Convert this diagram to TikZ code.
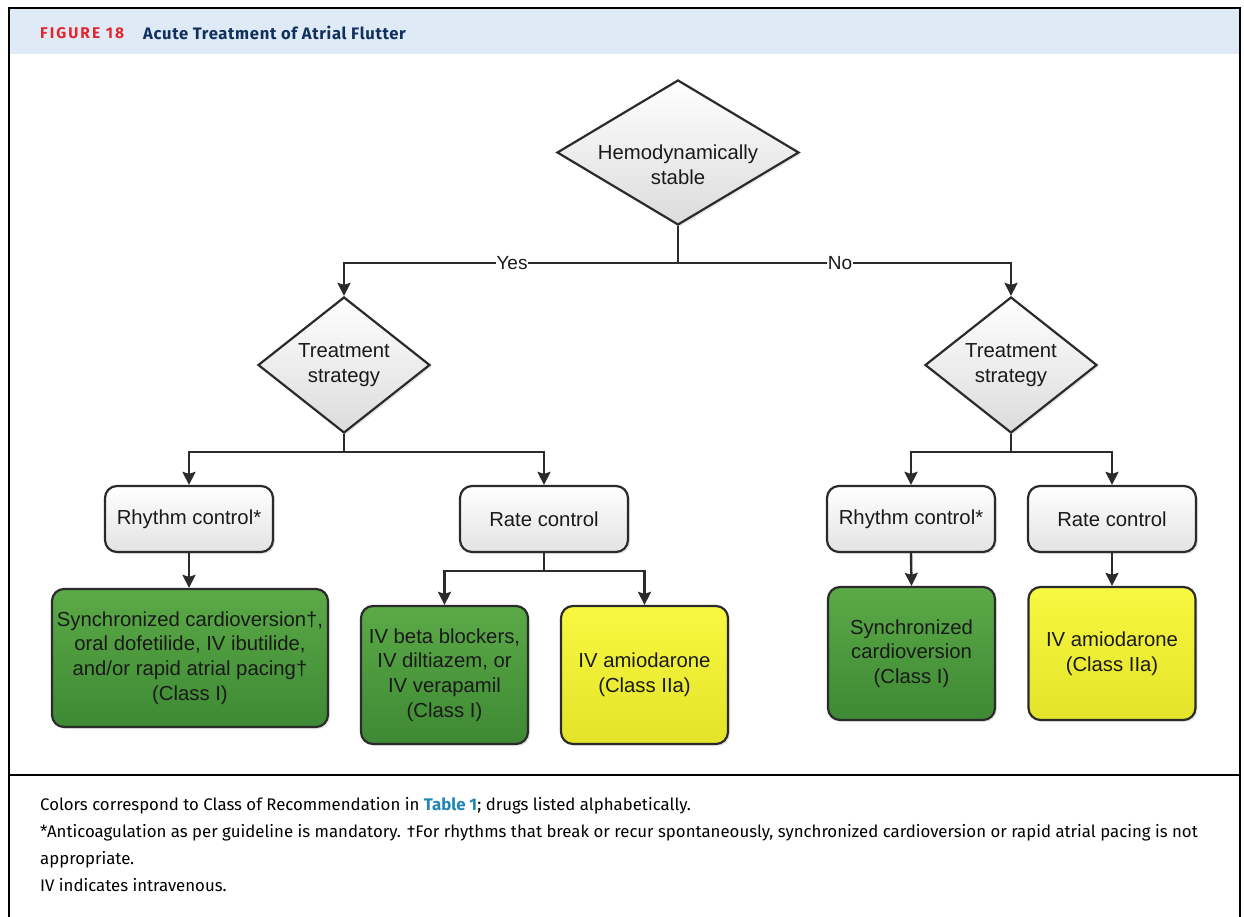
\documentclass[tikz,border=0pt]{standalone}
\usepackage{fontspec}
\setmainfont{Liberation Sans}
\newfontfamily\capfont{Fira Sans}
\usetikzlibrary{shapes.geometric,arrows.meta,shadows}
\definecolor{hdrblue}{HTML}{DEEAF6}
\definecolor{navy}{HTML}{12305E}
\definecolor{figred}{HTML}{E3262D}
\definecolor{linkblue}{HTML}{1F86B5}
\definecolor{edge}{HTML}{2B2B2B}
\definecolor{txt}{HTML}{1A1A1A}
\definecolor{gtop}{HTML}{5BAA47}
\definecolor{gbot}{HTML}{3E8934}
\definecolor{ytop}{HTML}{F8F842}
\definecolor{ybot}{HTML}{E3E329}
\begin{document}
\begin{tikzpicture}[x=1pt,y=-1pt,
  boxfont/.style={font=\fontsize{20.3}{24.7}\selectfont, text=txt, align=center},
  shade/.style={drop shadow={opacity=0.18, shadow xshift=2pt, shadow yshift=-2pt}},
  decision/.style={diamond, draw=edge, line width=2.2pt, top color=white, bottom color=black!14, inner sep=0pt, boxfont, shade},
  choice/.style={rectangle, rounded corners=12pt, draw=edge, line width=2.2pt, top color=white, bottom color=black!11, minimum width=168pt, minimum height=66pt, inner sep=0pt, boxfont, shade},
  greenbox/.style={rectangle, rounded corners=12pt, draw=edge, line width=2.2pt, top color=gtop, bottom color=gbot, inner sep=0pt, boxfont, shade},
  yellowbox/.style={rectangle, rounded corners=12pt, draw=edge, line width=2.2pt, top color=ytop, bottom color=ybot, inner sep=0pt, boxfont, shade},
  conn/.style={draw=edge, line width=2.4pt},
  arr/.style={conn, -{Stealth[length=13pt,width=13pt,inset=2pt]}},
  lbl/.style={fill=white, inner sep=0.5pt, font=\fontsize{19}{21}\selectfont, text=txt},
  captext/.style={anchor=base west, inner sep=0pt, font=\capfont\fontsize{16.8}{19}\selectfont, text=black}
]
\useasboundingbox (0,0) rectangle (1244,917);
% frame and header
\fill[white] (0,0) rectangle (1244,917);
\fill[hdrblue] (9,9) rectangle (1240,54);
\draw[black, line width=2pt] (9,917) -- (9,8) -- (1240,8) -- (1240,917);
\draw[black, line width=1.5pt] (9,775) -- (1240,775);
\node[anchor=base west, inner sep=0pt, font=\capfont\bfseries\fontsize{15.5}{17}\selectfont, text=figred] (fig) at (40,39)
  {\addfontfeature{LetterSpace=13}FIGURE 18};
\node[anchor=base west, inner sep=0pt, font=\capfont\bfseries\fontsize{16.6}{19}\selectfont, text=navy] (title) at (143,39.5)
  {\addfontfeature{LetterSpace=4}Acute Treatment of Atrial Flutter};

% nodes
\node[decision, minimum width=242pt, minimum height=145pt, aspect=1.67,
  label={[boxfont, yshift=-12pt]center:{Hemodynamically\\stable}}] (hs) at (678,152.5) {};
\node[decision, minimum width=172pt, minimum height=136pt, aspect=1.26] (tl) at (344,365) {Treatment\\strategy};
\node[decision, minimum width=172pt, minimum height=136pt, aspect=1.26] (tr) at (1011,365) {Treatment\\strategy};

\node[choice] (rc1) at (189,519) {Rhythm control*};
\node[choice] (rt1) at (544,519) {Rate control};
\node[choice] (rc2) at (911,519) {Rhythm control*};
\node[choice] (rt2) at (1112,519) {Rate control};

\node[greenbox, minimum width=276pt, minimum height=138pt] (g1) at (190,658)
  {Synchronized cardioversion\textdagger,\\oral dofetilide, IV ibutilide,\\and/or rapid atrial pacing\textdagger\\(Class I)};
\node[greenbox, minimum width=167pt, minimum height=138pt] (g2) at (444.5,675)
  {IV beta blockers,\\IV diltiazem, or\\IV verapamil\\(Class I)};
\node[yellowbox, minimum width=167pt, minimum height=138pt] (y1) at (644.5,675)
  {IV amiodarone\\(Class IIa)};
\node[greenbox, minimum width=167pt, minimum height=133pt] (g3) at (911.5,653.5)
  {Synchronized\\cardioversion\\(Class I)};
\node[yellowbox, minimum width=167pt, minimum height=133pt] (y2) at (1112,653.5)
  {IV amiodarone\\(Class IIa)};

% junctions
\coordinate (j1) at (678,263);
\coordinate (j2) at (344,452);
\coordinate (j3) at (544,571);
\coordinate (j4) at (1011,452);

% connectors
\draw[conn] (hs.south) -- (j1);
\draw[arr] (j1) -| (tl.north);
\draw[arr] (j1) -| (tr.north);
\node[lbl] (yes) at (512,263) {Yes};
\node[lbl] (no) at (840,263) {No};

\draw[conn] (tl.south) -- (j2);
\draw[arr] (j2) -| (rc1.north);
\draw[arr] (j2) -| (rt1.north);
\draw[arr] (rc1.south) -- (g1.north -| rc1.south);

\draw[conn] (rt1.south) -- (j3);
\draw[arr] (j3) -| (g2.north);
\draw[arr] (j3) -| (y1.north);

\draw[conn] (tr.south) -- (j4);
\draw[arr] (j4) -| (rc2.north);
\draw[arr] (j4) -| (rt2.north);
\draw[arr] (rc2.south) -- (g3.north);
\draw[arr] (rt2.south) -- (y2.north);

% caption
\node[captext] (c1) at (40,810) {Colors correspond to Class of Recommendation in \textcolor{linkblue}{\bfseries Table 1}; drugs listed alphabetically.};
\node[captext] (c2) at (40,837.5) {*Anticoagulation as per guideline is mandatory. \textdagger For rhythms that break or recur spontaneously, synchronized cardioversion or rapid atrial pacing is not};
\node[captext] (c3) at (40,864) {appropriate.};
\node[captext] (c4) at (40,891.5) {IV indicates intravenous.};
\end{tikzpicture}
\end{document}
